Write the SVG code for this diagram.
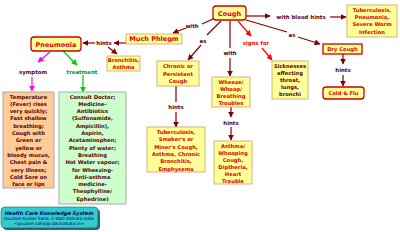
<svg xmlns="http://www.w3.org/2000/svg" width="400" height="232" viewBox="0 0 400 232">
<defs>
<style>
text{font-family:"DejaVu Sans",Verdana,sans-serif;font-weight:bold;text-anchor:middle}
.t{font-size:5.2px;fill:#dd0000}
.d{font-size:5.2px;fill:#550000}
.big{font-size:6.5px;fill:#dd0000}
.lab{font-size:5.4px;fill:#550022}
.y{fill:#ffff99;stroke:#c8a060;stroke-width:0.8}
.r{fill:#ffff99;stroke:#cc0000;stroke-width:1.3}
.ln{fill:none;stroke:#800000;stroke-width:1.2}
</style>
<marker id="a" viewBox="0 0 10 10" refX="9" refY="5" markerWidth="5" markerHeight="5" orient="auto"><path d="M0,0L10,5L0,10z" fill="#800000"/></marker>
<marker id="am" viewBox="0 0 10 10" refX="9" refY="5" markerWidth="5" markerHeight="5" orient="auto"><path d="M0,0L10,5L0,10z" fill="#ff00ff"/></marker>
<marker id="ag" viewBox="0 0 10 10" refX="9" refY="5" markerWidth="5" markerHeight="5" orient="auto"><path d="M0,0L10,5L0,10z" fill="#00cc00"/></marker>
<marker id="ar" viewBox="0 0 10 10" refX="9" refY="5" markerWidth="5" markerHeight="5" orient="auto"><path d="M0,0L10,5L0,10z" fill="#ff0000"/></marker>
</defs>
<rect width="400" height="232" fill="#ffffff"/>
<g id="connectors">
<line class="ln" x1="246" y1="16" x2="270" y2="16" marker-end="url(#a)"/>
<line class="ln" x1="330" y1="17" x2="346" y2="17" marker-end="url(#a)"/>
<line class="ln" x1="213" y1="19" x2="202" y2="24" />
<line class="ln" x1="186" y1="28" x2="173" y2="33" marker-end="url(#a)"/>
<line class="ln" x1="126" y1="43" x2="114" y2="43" marker-end="url(#a)"/>
<line class="ln" x1="95" y1="43" x2="83" y2="43" marker-end="url(#a)"/>
<line class="ln" x1="108" y1="47" x2="117" y2="54" marker-end="url(#a)"/>
<line x1="50" y1="52" x2="38" y2="62" stroke="#ff00ff" stroke-width="1.2" marker-end="url(#am)"/>
<line x1="32" y1="77" x2="32" y2="91" stroke="#ff00ff" stroke-width="1.2" marker-end="url(#am)"/>
<line x1="63" y1="51" x2="77" y2="65" stroke="#00cc00" stroke-width="1.2" marker-end="url(#ag)"/>
<line x1="83" y1="75" x2="83" y2="92" stroke="#00cc00" stroke-width="1.2" marker-end="url(#ag)"/>
<line class="ln" x1="221" y1="21" x2="207" y2="35"/>
<line class="ln" x1="201" y1="45" x2="188" y2="60" marker-end="url(#a)"/>
<line class="ln" x1="176" y1="86" x2="176" y2="102"/>
<line class="ln" x1="176" y1="112" x2="176" y2="127" marker-end="url(#a)"/>
<line class="ln" x1="230" y1="21" x2="230" y2="48"/>
<line class="ln" x1="230" y1="58" x2="230" y2="76" marker-end="url(#a)"/>
<line class="ln" x1="231" y1="107" x2="231" y2="117" marker-end="url(#a)"/>
<line class="ln" x1="231" y1="127" x2="231" y2="140" marker-end="url(#a)"/>
<line x1="238" y1="21" x2="251" y2="36" stroke="#ff0000" stroke-width="1.2" marker-end="url(#ar)"/>
<line x1="262" y1="48" x2="272" y2="60" stroke="#ff0000" stroke-width="1.2" marker-end="url(#ar)"/>
<line class="ln" x1="246" y1="20" x2="287" y2="32"/>
<line class="ln" x1="298" y1="37" x2="320" y2="44" marker-end="url(#a)"/>
<line class="ln" x1="343" y1="54" x2="343" y2="64" marker-end="url(#a)"/>
<line class="ln" x1="343" y1="75" x2="343" y2="86" marker-end="url(#a)"/>
</g>
<g id="labels">
<text class="lab" x="301" y="19">with blood hints</text>
<text class="lab" x="192" y="28">with</text>
<text class="lab" x="104" y="45">hints</text>
<text class="lab" x="33" y="74">symptom</text>
<text x="82" y="74" style="font-size:5.4px;fill:#009900">treatment</text>
<text class="lab" x="203" y="43">as</text>
<text class="lab" x="176" y="109">hints</text>
<text class="lab" x="230" y="55">with</text>
<text class="lab" x="231" y="125">hints</text>
<text x="256" y="45" style="font-size:5.4px;fill:#ff0000">signs for</text>
<text class="lab" x="292" y="37">as</text>
<text class="lab" x="343" y="72">hints</text>
</g>
<g id="cough"><rect class="r" x="213" y="6" width="33" height="14" rx="3"/><text class="big" x="229.5" y="15.5">Cough</text></g>
<g id="tb1"><rect class="y" x="347" y="5" width="50" height="32"/>
<text class="t" x="372" y="12">Tuberculosis,</text><text class="t" x="372" y="19">Pneumonia,</text><text class="t" x="372" y="26">Severe Worm</text><text class="t" x="372" y="33.5">Infection</text></g>
<g id="phlegm"><rect class="y" x="126" y="34" width="56" height="10"/><text class="big" x="154" y="41.3">Much Phlegm</text></g>
<g id="pneumonia"><rect class="r" x="31" y="37" width="50" height="14" rx="3"/><text class="big" x="56" y="46.5">Pneumonia</text></g>
<g id="bronchitis"><rect class="y" x="107" y="56" width="33" height="15"/><text class="t" x="123.5" y="62">Bronchitis,</text><text class="t" x="123.5" y="69">Asthma</text></g>
<g id="temperature"><rect x="3" y="92" width="51" height="96" fill="#ffcc99" stroke="#999999" stroke-width="0.8"/>
<text class="d" x="28.5" y="98.5">Temperature</text>
<text class="d" x="28.5" y="105.8">(Fever) rises</text>
<text class="d" x="28.5" y="113.1">very quickly;</text>
<text class="d" x="28.5" y="120.4">Fast shallow</text>
<text class="d" x="28.5" y="127.7">breathing;</text>
<text class="d" x="28.5" y="135">Cough with</text>
<text class="d" x="28.5" y="142.3">Green or</text>
<text class="d" x="28.5" y="149.6">yellow or</text>
<text class="d" x="28.5" y="156.9">bloody mucus,</text>
<text class="d" x="28.5" y="164.2">Chest pain &amp;</text>
<text class="d" x="28.5" y="171.5">very illness;</text>
<text class="d" x="28.5" y="178.8">Cold Sore on</text>
<text class="d" x="28.5" y="186.1">face or lips</text>
</g>
<g id="treatment"><rect x="59" y="92" width="67" height="112" fill="#ccffcc" stroke="#999999" stroke-width="0.8"/>
<text class="d" x="92.5" y="98.5">Consult Doctor;</text>
<text class="d" x="92.5" y="105.8">Medicine-</text>
<text class="d" x="92.5" y="113.1">Antibiotics</text>
<text class="d" x="92.5" y="120.4">(Sulfonamide,</text>
<text class="d" x="92.5" y="127.7">Ampicillin),</text>
<text class="d" x="92.5" y="135">Aspirin,</text>
<text class="d" x="92.5" y="142.3">Acetaminophen;</text>
<text class="d" x="92.5" y="149.6">Plenty of water;</text>
<text class="d" x="92.5" y="156.9">Breathing</text>
<text class="d" x="92.5" y="164.2">Hot Water vapour;</text>
<text class="d" x="92.5" y="171.5">for Wheezing-</text>
<text class="d" x="92.5" y="178.8">Anti-asthma</text>
<text class="d" x="92.5" y="186.1">medicine-</text>
<text class="d" x="92.5" y="193.4">Theophylline/</text>
<text class="d" x="92.5" y="200.7">Ephedrine)</text>
</g>
<g id="chronic"><rect class="y" x="157" y="61" width="42" height="25"/>
<text class="t" x="178" y="68">Chronic or</text><text class="t" x="178" y="75.5">Persistent</text><text class="t" x="178" y="83">Cough</text></g>
<g id="tb2"><rect class="y" x="147" y="127" width="58" height="45"/>
<text class="t" x="176" y="134">Tuberculosis,</text><text class="t" x="176" y="141.3">Smoker's or</text><text class="t" x="176" y="148.6">Miner's Cough,</text><text class="t" x="176" y="155.9">Asthma, Chronic</text><text class="t" x="176" y="163.2">Bronchitis,</text><text class="t" x="176" y="170.5">Emphysema</text></g>
<g id="wheeze"><rect class="y" x="212" y="77" width="38" height="30"/>
<text class="t" x="231" y="83.5">Wheeze/</text><text class="t" x="231" y="90.5">Whoop/</text><text class="t" x="231" y="97.5">Breathing</text><text class="t" x="231" y="104.5">Troubles</text></g>
<g id="asthma"><rect class="y" x="214" y="141" width="38" height="43"/>
<text class="t" x="233" y="147.5">Asthma/</text><text class="t" x="233" y="154.5">Whooping</text><text class="t" x="233" y="161.5">Cough,</text><text class="t" x="233" y="168.5">Diptheria,</text><text class="t" x="233" y="175.5">Heart</text><text class="t" x="233" y="182.5">Trouble</text></g>
<g id="sicknesses"><rect class="y" x="272" y="61" width="36" height="38"/>
<text class="d" x="290" y="67.5">Sicknesses</text><text class="d" x="290" y="74.5">affecting</text><text class="d" x="290" y="81.5">throat,</text><text class="d" x="290" y="88.5">lungs,</text><text class="d" x="290" y="95.5">bronchi</text></g>
<g id="drycough"><rect class="r" x="323" y="44" width="39" height="10"/><text class="t" x="342.5" y="51">Dry Cough</text></g>
<g id="coldflu"><rect class="r" x="323" y="87" width="41" height="12" rx="3"/><text class="t" x="343.5" y="95">Cold &amp; Flu</text></g>
<g id="credit">
<rect x="3" y="209" width="97" height="21" rx="4" fill="#336666"/>
<rect x="1" y="207" width="97" height="21" rx="4" fill="#33cccc" stroke="#006666" stroke-width="0.6"/>
<text x="49" y="214.5" style="font-size:5px;fill:#000066;font-style:italic">Health Care Knowledge System</text>
<text x="49" y="220" style="font-size:4.3px;fill:#000066;font-weight:normal">Goutam Kumar Saha, C-DAC Kolkata India</text>
<text x="49" y="225" style="font-size:4.3px;fill:#000066;font-weight:normal">&lt;goutam.saha@cdackolkata.in&gt;</text>
</g>
</svg>
